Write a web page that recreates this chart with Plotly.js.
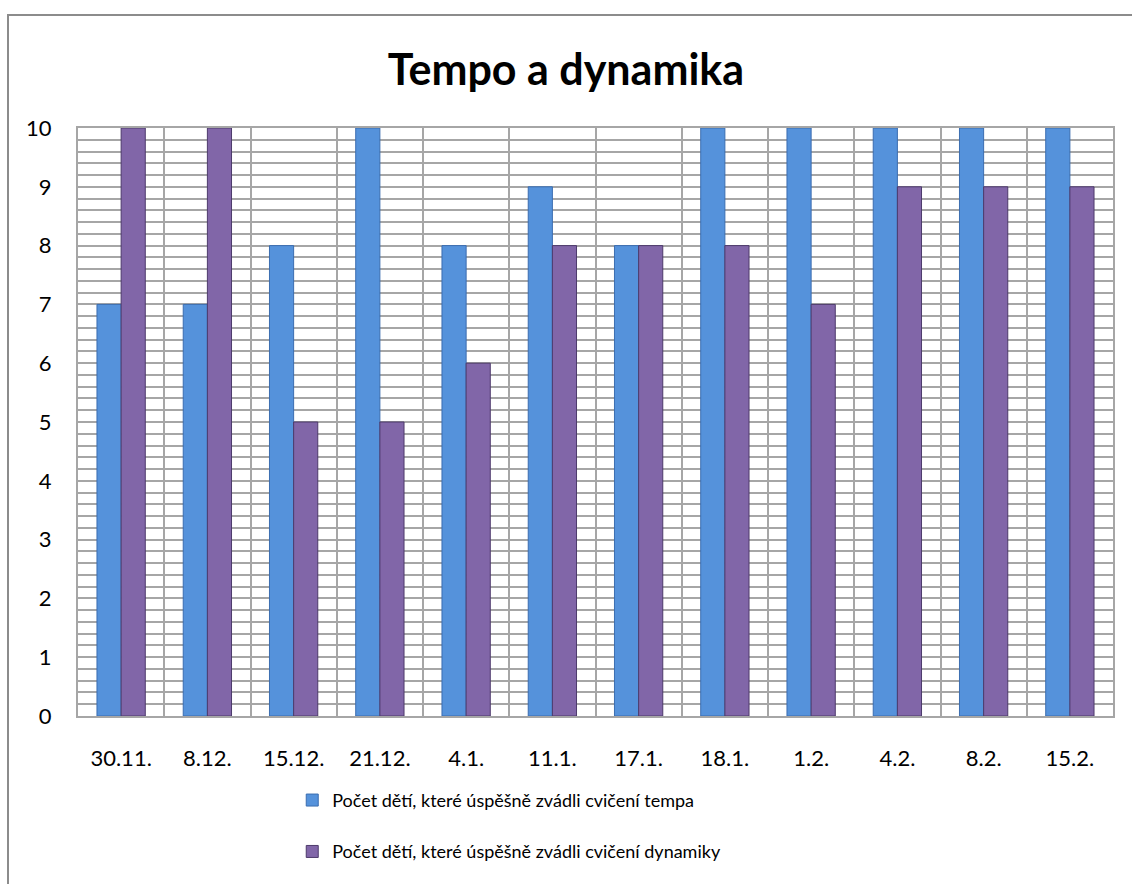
<!DOCTYPE html>
<html>
<head>
<meta charset="utf-8">
<script src="https://cdn.plot.ly/plotly-3.0.1.min.js"></script>
<style>
  html, body { margin: 0; padding: 0; background: #fff; }
  #wrap { position: relative; width: 1132px; height: 884px; overflow: hidden; }
  #chart { position: absolute; left: 0; top: 0; width: 1132px; height: 884px; }
  #frame { position: absolute; left: 7px; top: 14px; width: 1200px; height: 1000px;
           border-left: 2px solid #8c8c8c; border-top: 2px solid #8c8c8c; pointer-events: none; }
</style>
</head>
<body>
<div id="wrap">
  <div id="chart"></div>
  <div id="frame"></div>
</div>
<script>
const categories = ["30.11.", "8.12.", "15.12.", "21.12.", "4.1.", "11.1.", "17.1.", "18.1.", "1.2.", "4.2.", "8.2.", "15.2."];
const tempoValues = [7, 7, 8, 10, 8, 9, 8, 10, 10, 10, 10, 10];
const dynamikaValues = [10, 10, 5, 5, 6, 8, 8, 8, 7, 9, 9, 9];
const tempoName = "Počet dětí, které úspěšně zvádli cvičení tempa";
const dynamikaName = "Počet dětí, které úspěšně zvádli cvičení dynamiky";
const titleText = "Tempo a dynamika";

const font = "Lato, 'Open Sans', sans-serif";

const traces = [
  {
    type: "bar", x: categories, y: tempoValues, name: tempoName, legendgroup: "a",
    marker: { color: "#5592db", line: { color: "#3b6db0", width: 1 } }
  },
  {
    type: "bar", x: categories, y: dynamikaValues, name: dynamikaName, legendgroup: "b",
    marker: { color: "#8166a8", line: { color: "#4d3a6b", width: 1 } }
  }
];

const layout = {
  width: 1132, height: 884,
  margin: { l: 78, r: 19, t: 128, b: 168 },
  paper_bgcolor: "#ffffff", plot_bgcolor: "#ffffff",
  font: { family: font, color: "#000000", size: 22 },
  title: {
    text: "<b>" + titleText + "</b>",
    font: { family: font, size: 43, color: "#000000" },
    x: 0.5, xanchor: "center", y: 0.921, yanchor: "middle", xref: "container", yref: "container"
  },
  barmode: "group", bargap: 0.44, bargroupgap: 0,
  xaxis: {
    type: "category", tickson: "boundaries", tickangle: 0,
    showgrid: true, gridcolor: "#a6a6a6", gridwidth: 2,
    showline: true, linecolor: "#a6a6a6", linewidth: 2, mirror: true,
    ticks: "", ticklabelstandoff: 22,
    tickfont: { family: font, size: 22, color: "#000" },
    fixedrange: true
  },
  yaxis: {
    range: [0, 10], dtick: 1, tick0: 0,
    showgrid: true, gridcolor: "#a6a6a6", gridwidth: 2,
    minor: { dtick: 0.2, showgrid: true, gridcolor: "#a6a6a6", gridwidth: 2, ticks: "" },
    showline: true, linecolor: "#a6a6a6", linewidth: 2, mirror: true,
    zeroline: false, ticks: "", ticklabelstandoff: 20,
    tickfont: { family: font, size: 22, color: "#000" },
    fixedrange: true
  },
  showlegend: true,
  legend: {
    orientation: "v",
    x: 0.207, xanchor: "left", y: -0.112, yanchor: "top",
    traceorder: "grouped", tracegroupgap: 25,
    font: { family: font, size: 18, color: "#000" },
    bgcolor: "rgba(0,0,0,0)", itemclick: false, itemdoubleclick: false
  }
};

Plotly.newPlot("chart", traces, layout, { displayModeBar: false, staticPlot: true });
</script>
</body>
</html>
